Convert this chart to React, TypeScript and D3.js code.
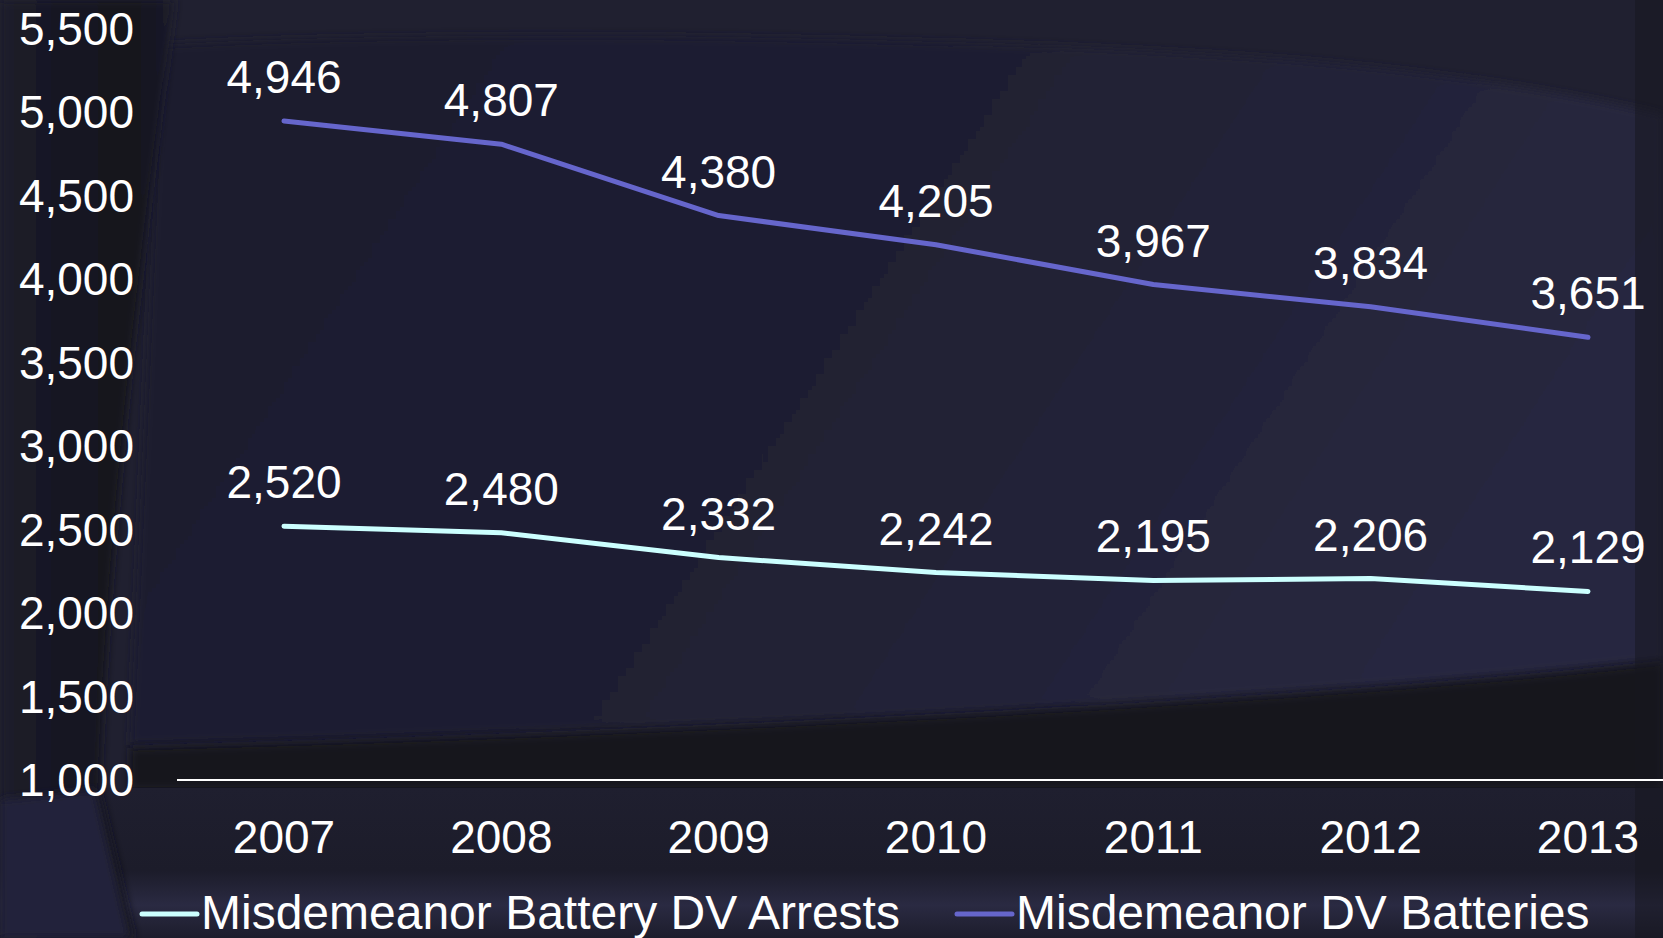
import { useEffect, useRef } from 'react';
import * as d3 from 'd3';

const years = ['2007', '2008', '2009', '2010', '2011', '2012', '2013'];
const arrests = [2520, 2480, 2332, 2242, 2195, 2206, 2129];
const batteries = [4946, 4807, 4380, 4205, 3967, 3834, 3651];
const yTicks = [1000, 1500, 2000, 2500, 3000, 3500, 4000, 4500, 5000, 5500];
const seriesNames = ['Misdemeanor Battery DV Arrests', 'Misdemeanor DV Batteries'];
const seriesColors = ['#ccffff', '#6666cc'];

const W = 1663;
const H = 938;
const FONT = 'Arial, "Liberation Sans", sans-serif';

export default function App() {
  const svgRef = useRef<SVGSVGElement>(null);

  useEffect(() => {
    if (!svgRef.current) return;
    const svg = d3.select(svgRef.current);
    svg.selectAll('*').remove();
    svg.attr('width', W).attr('height', H);

    // background
    const defs = svg.append('defs');
    const lens = defs.append('linearGradient').attr('id', 'lens').attr('x1', 0).attr('y1', 0).attr('x2', 1).attr('y2', 0.3);
    lens.append('stop').attr('offset', 0).attr('stop-color', '#1d1d2d');
    lens.append('stop').attr('offset', 0.6).attr('stop-color', '#202034');
    lens.append('stop').attr('offset', 1).attr('stop-color', '#28283f');
    const left = defs.append('linearGradient').attr('id', 'left').attr('x1', 0).attr('y1', 0).attr('x2', 1).attr('y2', 0);
    left.append('stop').attr('offset', 0).attr('stop-color', '#1c1c2a');
    left.append('stop').attr('offset', 0.75).attr('stop-color', '#13131c');
    left.append('stop').attr('offset', 1).attr('stop-color', '#1c1c2b');
    const bottom = defs.append('linearGradient').attr('id', 'bottom').attr('x1', 0).attr('y1', 0).attr('x2', 0).attr('y2', 1);
    bottom.append('stop').attr('offset', 0).attr('stop-color', '#1f1f2f');
    bottom.append('stop').attr('offset', 0.55).attr('stop-color', '#1c1c2a');
    bottom.append('stop').attr('offset', 0.78).attr('stop-color', '#2a2a42');
    bottom.append('stop').attr('offset', 1).attr('stop-color', '#1d1d2c');
    const blur = defs.append('filter').attr('id', 'soft').attr('x', -0.1).attr('y', -0.1).attr('width', 1.2).attr('height', 1.2);
    blur.append('feGaussianBlur').attr('stdDeviation', 4);

    svg.append('rect').attr('width', W).attr('height', H).attr('fill', '#202030');
    svg.append('path')
      .attr('d', 'M160,45 C500,25 1100,40 1350,65 C1500,80 1600,100 1663,115 L1663,660 C1300,700 700,730 130,745 Z')
      .attr('fill', 'url(#lens)')
      .attr('filter', 'url(#soft)');
    svg.append('path')
      .attr('d', 'M130,748 C700,733 1300,703 1663,663 L1663,790 L130,790 Z')
      .attr('fill', '#18181f')
      .attr('filter', 'url(#soft)');
    svg.append('rect').attr('x', 0).attr('y', 788).attr('width', W).attr('height', H - 788).attr('fill', 'url(#bottom)');
    svg.append('path')
      .attr('d', 'M0,0 L175,0 C150,200 110,500 100,790 L135,938 L0,938 Z')
      .attr('fill', 'url(#left)')
      .attr('filter', 'url(#soft)');
    svg.append('path')
      .attr('d', 'M0,800 L95,790 L130,938 L0,938 Z')
      .attr('fill', '#24243a')
      .attr('filter', 'url(#soft)');
    svg.append('rect').attr('x', 1635).attr('y', 0).attr('width', 28).attr('height', H).attr('fill', '#15151e').attr('opacity', 0.5);

    const x = d3.scalePoint<string>().domain(years).range([284, 1588]);
    const y = d3.scaleLinear().domain([1000, 5500]).range([780, 28.5]);
    const fmt = d3.format(',');

    const g = svg.append('g').attr('font-family', FONT).attr('fill', '#ffffff');

    // y axis labels
    g.selectAll('text.ytick')
      .data(yTicks)
      .join('text')
      .attr('class', 'ytick')
      .attr('x', 134)
      .attr('y', (d) => y(d))
      .attr('dy', '0.35em')
      .attr('text-anchor', 'end')
      .attr('font-size', 46)
      .text((d) => fmt(d));

    // baseline
    g.append('line')
      .attr('x1', 177).attr('x2', W)
      .attr('y1', y(1000)).attr('y2', y(1000))
      .attr('stroke', '#ffffff').attr('stroke-width', 2);

    // x labels
    g.selectAll('text.xtick')
      .data(years)
      .join('text')
      .attr('class', 'xtick')
      .attr('x', (d) => x(d)!)
      .attr('y', 853)
      .attr('text-anchor', 'middle')
      .attr('font-size', 46)
      .text((d) => d);

    const line = d3.line<number>()
      .x((_, i) => x(years[i])!)
      .y((d) => y(d));

    [arrests, batteries].forEach((vals, si) => {
      g.append('path')
        .attr('d', line(vals))
        .attr('fill', 'none')
        .attr('stroke', seriesColors[si])
        .attr('stroke-width', 5)
        .attr('stroke-linecap', 'round')
        .attr('stroke-linejoin', 'round');

      g.selectAll(`text.lbl${si}`)
        .data(vals)
        .join('text')
        .attr('class', `lbl${si}`)
        .attr('x', (_, i) => x(years[i])!)
        .attr('y', (d) => y(d) - 28)
        .attr('text-anchor', 'middle')
        .attr('font-size', 46)
        .text((d) => fmt(d));
    });

    // legend
    const legendX = [142, 957];
    seriesNames.forEach((name, i) => {
      g.append('line')
        .attr('x1', legendX[i]).attr('x2', legendX[i] + 55)
        .attr('y1', 914).attr('y2', 914)
        .attr('stroke', seriesColors[i]).attr('stroke-width', 5)
        .attr('stroke-linecap', 'round');
      g.append('text')
        .attr('x', legendX[i] + 59)
        .attr('y', 929)
        .attr('font-size', 48)
        .text(name);
    });
  }, []);

  return (
    <div style={{ position: 'absolute', left: 0, top: 0, width: W, height: H, overflow: 'hidden' }}>
      <svg ref={svgRef} style={{ display: 'block' }} />
    </div>
  );
}
